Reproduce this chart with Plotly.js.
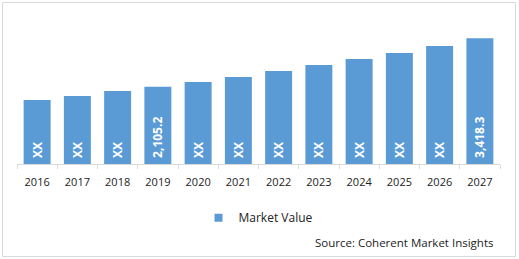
<!DOCTYPE html>
<html>
<head>
<meta charset="utf-8">
<script src="https://cdn.plot.ly/plotly-3.0.1.min.js"></script>
<style>html,body{margin:0;padding:0;background:#fff;}#chart{width:519px;height:259px;}</style>
</head>
<body>
<div id="chart"></div>
<script>
var years = ["2016","2017","2018","2019","2020","2021","2022","2023","2024","2025","2026","2027"];
var marketValue = [1741, 1850, 1986, 2105.2, 2230, 2366, 2530, 2693, 2856, 3019, 3210, 3418.3];
var barLabels = ["XX","XX","XX","2,105.2","XX","XX","XX","XX","XX","XX","XX","3,418.3"];
var seriesName = "Market Value";
var sourceText = "Source: Coherent Market Insights";

var W = 519, H = 259;
var L = 17, R = 500, T = 10, B = 164;
function px(x){ return (x - L) / (R - L); }
function py(y){ return (B - y) / (B - T); }

var barColor = "#5b9bd5";

var trace = {
  type: "bar",
  x: years,
  y: marketValue,
  name: seriesName,
  text: barLabels.map(function(s){ return " " + s; }),
  textposition: "inside",
  insidetextanchor: "start",
  textangle: -90,
  textfont: {family: "Open Sans", size: 12, color: "#ffffff", weight: "bold"},
  marker: {color: barColor},
  showlegend: false,
  hoverinfo: "none"
};

// legend entry for the same series, drawn with a small square symbol
var legendEntry = {
  type: "scatter",
  mode: "markers",
  x: [null], y: [null],
  name: seriesName,
  marker: {symbol: "square", size: 8, color: barColor},
  showlegend: true,
  hoverinfo: "none"
};

var layout = {
  width: W, height: H,
  margin: {l: L, r: W - R, t: T, b: H - B, pad: 0},
  paper_bgcolor: "#ffffff",
  plot_bgcolor: "#ffffff",
  bargap: 0.33,
  font: {family: "Open Sans", color: "#222222"},
  xaxis: {
    type: "category",
    showline: true, linecolor: "#d9d9d9", linewidth: 1,
    ticks: "outside", tickson: "boundaries", ticklen: 4, tickcolor: "#d9d9d9",
    ticklabelstandoff: 8,
    tickfont: {family: "Open Sans", size: 11, color: "#222222"},
    showgrid: false, zeroline: false
  },
  yaxis: {
    range: [0, 4190],
    visible: false, showgrid: false, zeroline: false
  },
  showlegend: true,
  legend: {
    orientation: "h",
    x: 0.5, xanchor: "center",
    y: py(217.7), yanchor: "middle",
    font: {family: "Open Sans", size: 12, color: "#222222"},
    itemwidth: 30
  },
  annotations: [{
    text: sourceText,
    xref: "paper", yref: "paper",
    x: px(495), y: py(242),
    xanchor: "right", yanchor: "middle",
    showarrow: false,
    font: {family: "Open Sans", size: 11.5, color: "#222222"}
  }],
  shapes: [{
    type: "rect", xref: "paper", yref: "paper",
    x0: px(2.5), x1: px(515.5), y0: py(256.5), y1: py(2.5),
    line: {color: "#d9d9d9", width: 1}
  }]
};

Plotly.newPlot("chart", [trace, legendEntry], layout, {displayModeBar: false, staticPlot: true});
</script>
</body>
</html>
